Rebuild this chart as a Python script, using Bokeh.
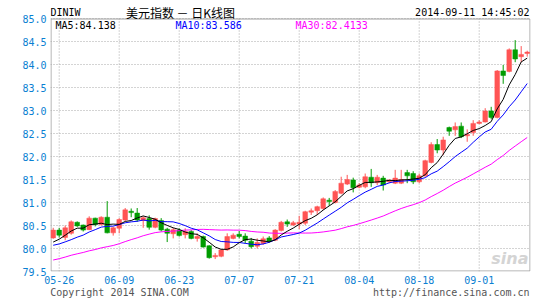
import pandas as pd
from bokeh.plotting import figure
from bokeh.models import (Range1d, FixedTicker, ColumnDataSource, Label,
                          NumeralTickFormatter, LinearAxis)
from bokeh.embed import file_html
from bokeh.resources import INLINE

# ---------------- data ----------------
dates = [d.strftime("%m-%d") for d in pd.bdate_range("2014-05-23", "2014-09-11")]

open_ = [80.23, 80.40, 80.24, 80.33, 80.57, 80.51, 80.41, 80.66, 80.52, 80.68,
         80.34, 80.44, 80.62, 80.81, 80.77, 80.61, 80.65, 80.46, 80.61, 80.42,
         80.32, 80.40, 80.30, 80.37, 80.22, 80.26, 80.06, 79.82, 79.83, 79.97,
         80.22, 80.31, 80.27, 80.16, 80.05, 80.11, 80.23, 80.18, 80.39, 80.58,
         80.51, 80.53, 80.55, 80.79, 80.82, 80.87, 81.05, 81.00, 81.20, 81.40,
         81.49, 81.33, 81.34, 81.55, 81.43, 81.53, 81.45, 81.42, 81.42, 81.65,
         81.63, 81.45, 81.58, 81.87, 82.26, 82.14, 82.63, 82.58, 82.66, 82.45,
         82.52, 82.72, 82.75, 82.99, 82.85, 83.86, 83.85, 84.32, 84.17, 84.24]
high = [80.45, 80.45, 80.50, 80.61, 80.59, 80.52, 80.70, 80.67, 80.70, 81.03,
        80.47, 80.66, 80.88, 80.87, 80.88, 80.70, 80.72, 80.67, 80.66, 80.45,
        80.45, 80.44, 80.44, 80.40, 80.33, 80.28, 80.07, 79.90, 79.98, 80.33,
        80.33, 80.38, 80.33, 80.23, 80.22, 80.26, 80.27, 80.42, 80.60, 80.63,
        80.60, 80.71, 80.82, 80.87, 80.93, 81.11, 81.10, 81.27, 81.56, 81.60,
        81.54, 81.42, 81.63, 81.73, 81.60, 81.58, 81.50, 81.71, 81.71, 81.71,
        81.68, 81.63, 81.93, 82.31, 82.38, 82.43, 82.65, 82.74, 82.74, 82.59,
        82.79, 82.79, 83.05, 83.08, 83.88, 83.99, 84.35, 84.53, 84.40, 84.30]
low = [80.21, 80.24, 80.18, 80.30, 80.47, 80.37, 80.40, 80.48, 80.50, 80.33,
       80.28, 80.33, 80.60, 80.68, 80.58, 80.45, 80.41, 80.44, 80.37, 80.14,
       80.22, 80.26, 80.22, 80.20, 80.15, 80.02, 79.78, 79.77, 79.81, 79.95,
       80.20, 80.22, 80.11, 80.00, 80.00, 80.08, 80.13, 80.16, 80.37, 80.47,
       80.49, 80.42, 80.51, 80.73, 80.73, 80.84, 80.93, 80.98, 81.18, 81.38,
       81.22, 81.31, 81.31, 81.34, 81.38, 81.26, 81.42, 81.40, 81.40, 81.42,
       81.40, 81.42, 81.56, 81.85, 82.07, 82.03, 82.45, 82.45, 82.40, 82.32,
       82.45, 82.70, 82.74, 82.81, 82.83, 83.58, 83.83, 84.05, 84.05, 84.17]
close = [80.40, 80.29, 80.45, 80.58, 80.49, 80.40, 80.66, 80.52, 80.68, 80.34,
         80.45, 80.63, 80.84, 80.78, 80.62, 80.67, 80.46, 80.65, 80.40, 80.33,
         80.41, 80.28, 80.37, 80.22, 80.26, 80.03, 79.80, 79.85, 79.97, 80.26,
         80.29, 80.26, 80.18, 80.04, 80.13, 80.21, 80.16, 80.40, 80.57, 80.53,
         80.56, 80.57, 80.80, 80.82, 80.91, 81.08, 81.02, 81.24, 81.42, 81.50,
         81.32, 81.38, 81.56, 81.43, 81.55, 81.38, 81.49, 81.53, 81.50, 81.58,
         81.45, 81.58, 81.91, 82.26, 82.14, 82.36, 82.55, 82.65, 82.43, 82.48,
         82.72, 82.75, 82.99, 82.85, 83.86, 83.76, 84.32, 84.12, 84.22, 84.27]
# closes of the 29 sessions before the first candle (needed by the moving averages)
prior_close = [79.45, 79.38, 79.40, 79.55, 79.52, 79.58, 79.70, 79.60, 79.55, 79.66,
               79.50, 79.44, 79.50, 79.45, 79.30, 79.42, 79.65, 79.90, 80.05, 80.20,
               80.00, 80.00, 80.10, 79.95, 79.95, 79.98, 80.02, 80.12, 80.18]

tick_labels = ["05-26", "06-09", "06-23", "07-07", "07-21", "08-04", "08-18", "09-01"]
y_ticks = [79.5, 80.0, 80.5, 81.0, 81.5, 82.0, 82.5, 83.0, 83.5, 84.0, 84.5, 85.0]

symbol = "DINIW"
title_text = "美元指数 － 日K线图"
stamp = "2014-09-11 14:45:02"
ma_texts = ["MA5:84.138", "MA10:83.586", "MA30:82.4133"]
footer_texts = ["Copyright 2014 SINA.COM", "http://finance.sina.com.cn"]
logo_text = "sina"

# ---------------- derived ----------------
n = len(close)
xs = list(range(n))
allc = prior_close + close
off = len(prior_close)

def ma(period):
    return [sum(allc[off + k - period + 1: off + k + 1]) / period for k in xs]

ma5, ma10, ma30 = ma(5), ma(10), ma(30)

RED = "#ff5454"
GREEN = "#009c00"
colors = [RED if c >= o else GREEN for o, c in zip(open_, close)]
src = ColumnDataSource(dict(
    x=xs, top=[max(o, c) for o, c in zip(open_, close)],
    bottom=[min(o, c) for o, c in zip(open_, close)],
    high=high, low=low, color=colors))

tick_pos = [dates.index(t) for t in tick_labels]

# ---------------- geometry ----------------
W, H = 545, 300
FL, FW = 50, 480            # frame left / width (px)
BOX_TOP, BOX_BOT = 18, 271  # visible chart box (px)
X0, X1 = -0.45, 79.55
Y0, Y1 = min(y_ticks), max(y_ticks)
PPU = (BOX_BOT - BOX_TOP) / (Y1 - Y0)      # px per y unit
YTOP = Y1 + BOX_TOP / PPU                  # frame reaches canvas top

def X(px):
    return X0 + (px - FL) * (X1 - X0) / FW

def Y(py):
    return YTOP - py / PPU

p = figure(width=W, height=H, x_range=Range1d(X0, X1), y_range=Range1d(Y0, YTOP),
           output_backend="svg", toolbar_location=None,
           min_border_left=FL, min_border_right=W - FL - FW,
           min_border_top=0, min_border_bottom=H - BOX_BOT)
p.background_fill_color = "white"
p.border_fill_color = "white"
p.outline_line_color = None

MONO = "DejaVu Sans Mono"
BLUE_TXT = "#0a80d2"

def style_axis(ax, color, standoff):
    ax.axis_line_color = None
    ax.major_tick_line_color = None
    ax.minor_tick_line_color = None
    ax.major_tick_out = 0
    ax.major_tick_in = 0
    ax.minor_tick_out = 0
    ax.minor_tick_in = 0
    ax.major_label_text_color = color
    ax.major_label_text_font = MONO
    ax.major_label_text_font_size = "10px"
    ax.major_label_standoff = standoff

style_axis(p.yaxis[0], BLUE_TXT, 4)
style_axis(p.xaxis[0], BLUE_TXT, 4)
p.yaxis.ticker = FixedTicker(ticks=y_ticks)
p.yaxis.formatter = NumeralTickFormatter(format="0.0")
p.xaxis.ticker = FixedTicker(ticks=tick_pos)
p.xaxis.major_label_overrides = {pos: lab for pos, lab in zip(tick_pos, tick_labels)}

# footer line as a second axis below the dates
foot_pos = [round(X(49.7 + 6.02 * len(footer_texts[0]) / 2), 3),
            round(X(529 - 6.02 * len(footer_texts[1]) / 2), 3)]
foot_axis = LinearAxis(ticker=FixedTicker(ticks=foot_pos),
                       major_label_overrides={fp: t for fp, t in zip(foot_pos, footer_texts)})
style_axis(foot_axis, "#555555", 0)
p.add_layout(foot_axis, "below")

# grid
GRID = "#a8a8a8"
p.xgrid.visible = False
p.ygrid.ticker = FixedTicker(ticks=y_ticks)
p.ygrid.grid_line_color = GRID
p.ygrid.grid_line_dash = "1 2"
p.segment(x0=tick_pos, y0=[Y0] * len(tick_pos), x1=tick_pos, y1=[Y1] * len(tick_pos),
          line_color=GRID, line_dash="1 2", line_width=1)

# visible chart box
p.quad(left=[X(FL + 0.5)], right=[X(FL + FW - 0.5)], bottom=[Y(BOX_BOT - 0.5)],
       top=[Y(BOX_TOP + 0.5)], fill_color=None, line_color="#a0a0a0", line_width=1)

# candles
p.segment(x0="x", y0="low", x1="x", y1="high", color="color", line_width=1, source=src)
p.vbar(x="x", width=0.78, top="top", bottom="bottom", fill_color="color",
       line_color="color", line_width=0.5, source=src)

# moving averages
p.line(xs, ma30, color="#ff00ff", line_width=1)
p.line(xs, ma10, color="#0000ff", line_width=1)
p.line(xs, ma5, color="#000000", line_width=1)

# logo watermark
p.add_layout(Label(x=X(528), y=Y(258), text=logo_text, text_align="right",
                   text_baseline="middle", text_font="DejaVu Sans",
                   text_font_style="bold italic", text_font_size="16px",
                   text_color="#d4d4d4"))

def lab(px, py, text, align="left", color="#000000", font=MONO, size="10px"):
    p.add_layout(Label(x=X(px), y=Y(py), text=text, text_align=align,
                       text_baseline="middle", text_font=font,
                       text_font_size=size, text_color=color))

lab(50, 11.5, symbol)
lab(180, 11.5, title_text, align="center", font="Noto Sans CJK SC", size="12px")
lab(529, 11.5, stamp, align="right")
lab(55, 25, ma_texts[0], color="#000000")
lab(175, 25, ma_texts[1], color="#0000ff")
lab(295, 25, ma_texts[2], color="#ff00ff")

open("out.html", "w").write(file_html(p, INLINE))
